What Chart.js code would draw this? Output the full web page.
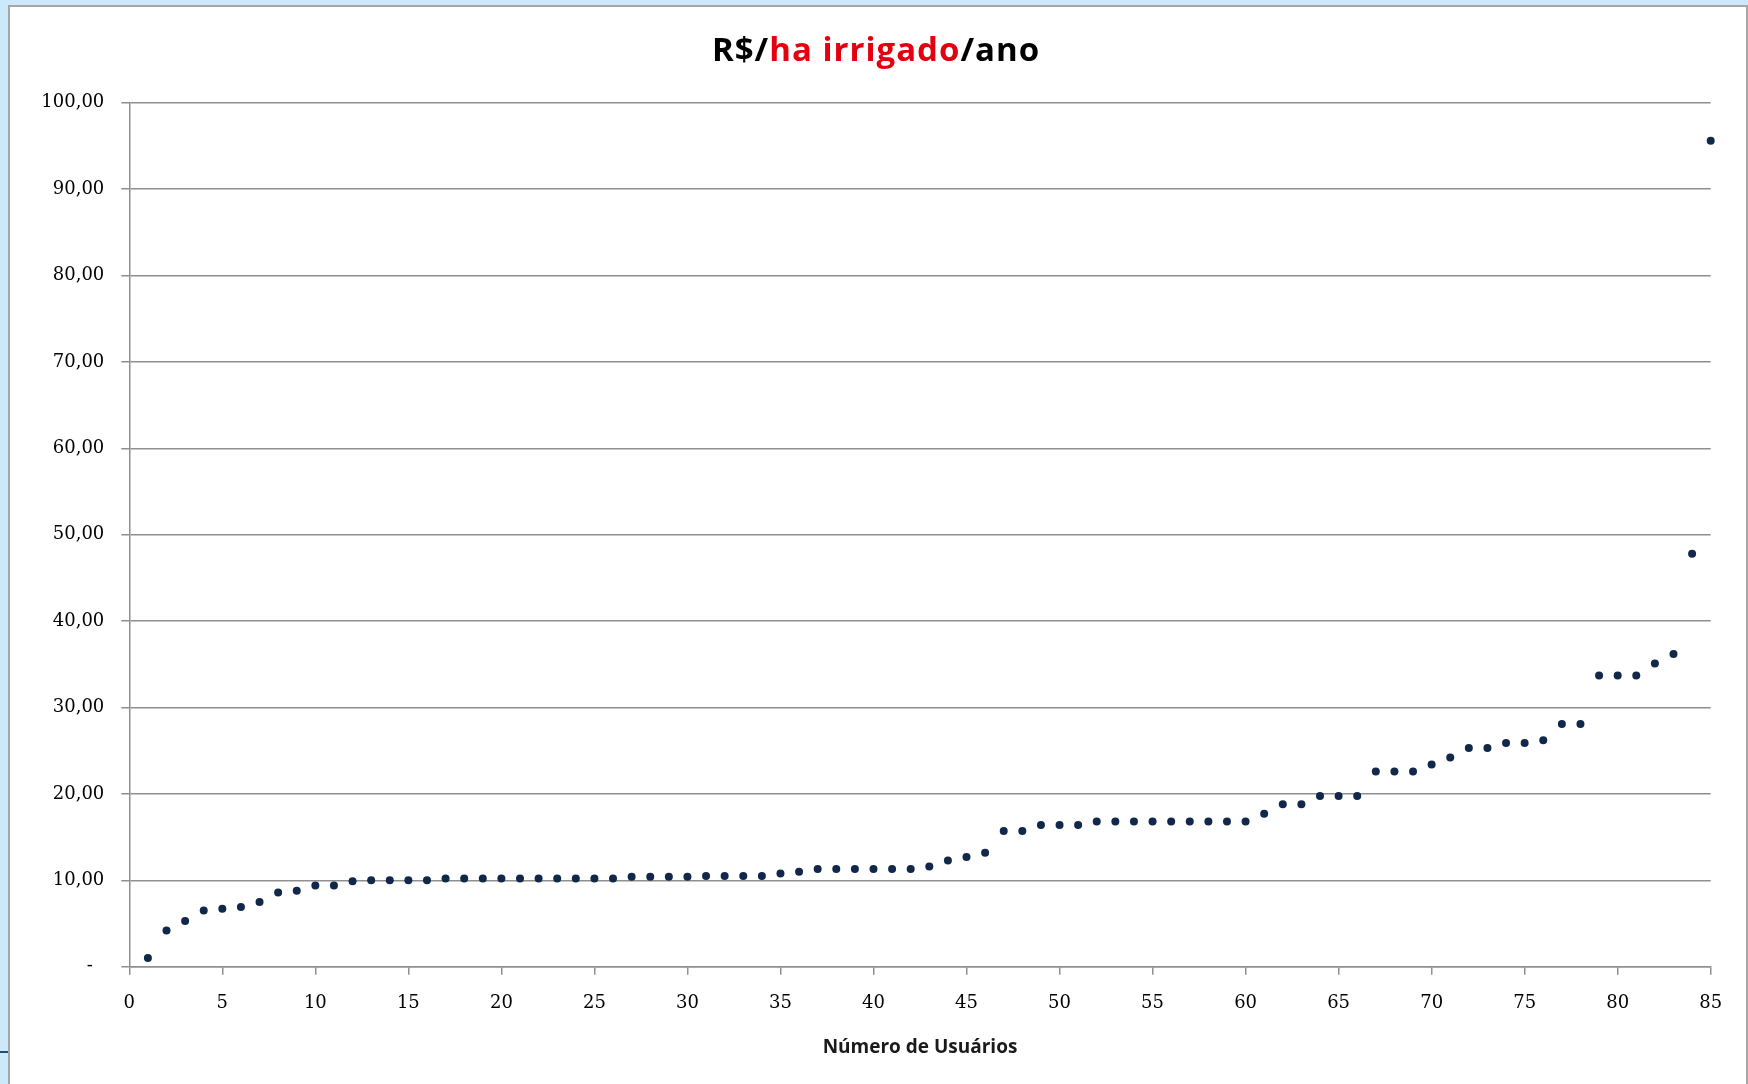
<!DOCTYPE html>
<html>
<head>
<meta charset="utf-8">
<script src="https://cdn.jsdelivr.net/npm/chart.js@4.4.1/dist/chart.umd.min.js"></script>
<style>
  html, body { margin: 0; padding: 0; width: 1748px; height: 1084px; overflow: hidden; background: #cce8fb; }
  #panel { position: absolute; left: 8px; top: 5px; width: 1740px; height: 1100px; box-sizing: border-box;
           border: 2px solid #a6a6a6; background: #ffffff; }
  #mark { position: absolute; left: 0; top: 1051px; width: 8px; height: 2px; background: #1f4d7a; }
  #wrap { position: absolute; left: 0; top: 0; width: 1748px; height: 1084px; }
</style>
</head>
<body>
<div id="panel"></div>
<div id="mark"></div>
<div id="wrap"><canvas id="c" width="1748" height="1084"></canvas></div>
<script>
// ---- data ----
const users = [
  1, 2, 3, 4, 5, 6, 7, 8, 9, 10,
  11, 12, 13, 14, 15, 16, 17, 18, 19, 20,
  21, 22, 23, 24, 25, 26, 27, 28, 29, 30,
  31, 32, 33, 34, 35, 36, 37, 38, 39, 40,
  41, 42, 43, 44, 45, 46, 47, 48, 49, 50,
  51, 52, 53, 54, 55, 56, 57, 58, 59, 60,
  61, 62, 63, 64, 65, 66, 67, 68, 69, 70,
  71, 72, 73, 74, 75, 76, 77, 78, 79, 80,
  81, 82, 83, 84, 85
];
const valuesPerHa = [
  1.0, 4.2, 5.3, 6.5, 6.7, 6.9, 7.5, 8.6, 8.8, 9.4,
  9.4, 9.9, 10.0, 10.0, 10.0, 10.0, 10.2, 10.2, 10.2, 10.2,
  10.2, 10.2, 10.2, 10.2, 10.2, 10.2, 10.4, 10.4, 10.4, 10.4,
  10.5, 10.5, 10.5, 10.5, 10.8, 11.0, 11.3, 11.3, 11.3, 11.3,
  11.3, 11.3, 11.6, 12.3, 12.7, 13.2, 15.7, 15.7, 16.4, 16.4,
  16.4, 16.8, 16.8, 16.8, 16.8, 16.8, 16.8, 16.8, 16.8, 16.8,
  17.7, 18.8, 18.8, 19.75, 19.75, 19.75, 22.6, 22.6, 22.6, 23.4,
  24.2, 25.3, 25.3, 25.9, 25.9, 26.2, 28.1, 28.1, 33.7, 33.7,
  33.7, 35.1, 36.2, 47.8, 95.6
];
const titleParts = [
  { text: 'R$/', color: '#000000' },
  { text: 'ha irrigado', color: '#e3000f' },
  { text: '/ano', color: '#000000' }
];
const xAxisTitle = 'Número de Usuários';
const xRange = [0, 85];
const yRange = [0, 100];
const xStep = 5;
const yStep = 10;

// ---- chart ----
const points = users.map((u, i) => ({ x: u, y: valuesPerHa[i] }));
const gridColor = '#8f8f8f';

const titlePlugin = {
  id: 'multiColorTitle',
  afterDraw(chart) {
    const ctx = chart.ctx;
    ctx.save();
    ctx.font = '700 33px "Open Sans"';
    ctx.letterSpacing = '1px';
    ctx.textBaseline = 'alphabetic';
    ctx.textAlign = 'left';
    const widths = titleParts.map(p => ctx.measureText(p.text).width);
    const total = widths.reduce((a, b) => a + b, 0);
    let x = chart.width / 2 + 2 - total / 2;
    const y = 61;
    titleParts.forEach((p, i) => {
      ctx.fillStyle = p.color;
      ctx.fillText(p.text, x, y);
      x += widths[i];
    });
    ctx.restore();
  }
};

new Chart(document.getElementById('c'), {
  type: 'scatter',
  data: {
    datasets: [{
      data: points,
      backgroundColor: '#11284a',
      borderColor: '#11284a',
      borderWidth: 0,
      pointRadius: 4,
      pointHoverRadius: 4,
      clip: false
    }]
  },
  options: {
    responsive: false,
    animation: false,
    events: [],
    layout: { padding: { top: 102.7, right: 37.3, left: 0, bottom: 0 } },
    plugins: { legend: { display: false }, title: { display: false }, tooltip: { enabled: false } },
    scales: {
      x: {
        type: 'linear',
        min: xRange[0], max: xRange[1],
        afterFit(scale) { scale.height = 117.3; },
        ticks: {
          stepSize: xStep,
          padding: 18,
          color: '#000000',
          font: { family: '"DejaVu Serif"', size: 18 },
          maxRotation: 0,
          autoSkip: false
        },
        grid: { drawOnChartArea: false, drawTicks: true, tickLength: 8, color: gridColor, lineWidth: 1.5 },
        border: { display: true, color: gridColor, width: 1.5 },
        title: {
          display: true,
          text: xAxisTitle,
          color: '#1a1a1a',
          font: { family: '"Open Sans"', size: 19, weight: '700' },
          padding: { top: 0, bottom: 25 }
        }
      },
      y: {
        type: 'linear',
        min: yRange[0], max: yRange[1],
        afterFit(scale) { scale.width = 129.3; },
        ticks: {
          stepSize: yStep,
          padding: 17,
          color: '#000000',
          font: { family: '"DejaVu Serif"', size: 18 },
          callback: v => v === 0 ? '-  ' : v.toFixed(2).replace('.', ',')
        },
        grid: { drawOnChartArea: true, drawTicks: true, tickLength: 8, color: gridColor, lineWidth: 1.5 },
        border: { display: true, color: gridColor, width: 1.5 }
      }
    }
  },
  plugins: [titlePlugin]
});
</script>
</body>
</html>
